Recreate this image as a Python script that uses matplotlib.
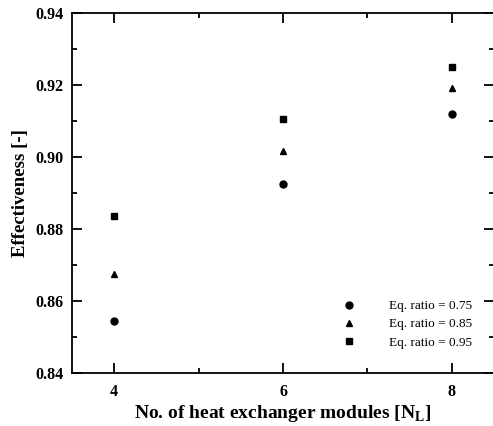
import matplotlib
matplotlib.use("Agg")
import matplotlib.pyplot as plt
from matplotlib.ticker import MultipleLocator

plt.rcParams['font.family'] = ['Liberation Serif', 'DejaVu Serif']
plt.rcParams['mathtext.fontset'] = 'custom'
plt.rcParams['mathtext.rm'] = 'Liberation Serif'
plt.rcParams['mathtext.bf'] = 'Liberation Serif:bold'

modules = [4, 6, 8]
eff_075 = [0.8545, 0.8926, 0.9119]
eff_085 = [0.8675, 0.9017, 0.9191]
eff_095 = [0.8836, 0.9106, 0.9251]
labels = ['Eq. ratio = 0.75', 'Eq. ratio = 0.85', 'Eq. ratio = 0.95']

fig = plt.figure(figsize=(4.93, 4.26), dpi=100)
ax = fig.add_axes([72/493, (426-373)/426, (494-72)/493, (373-13)/426])

ax.plot(modules, eff_075, 'o', color='black', ms=5, ls='none', label=labels[0])
ax.plot(modules, eff_085, '^', color='black', ms=5, ls='none', label=labels[1])
ax.plot(modules, eff_095, 's', color='black', ms=5, ls='none', label=labels[2])

ax.set_xlim(3.5, 8.5)
ax.set_ylim(0.84, 0.94)
ax.set_xticks([4, 6, 8])
ax.set_yticks([0.84, 0.86, 0.88, 0.90, 0.92, 0.94])
ax.set_yticklabels(['0.84', '0.86', '0.88', '0.90', '0.92', '0.94'])
ax.xaxis.set_minor_locator(MultipleLocator(1))
ax.yaxis.set_minor_locator(MultipleLocator(0.01))
ax.tick_params(which='both', direction='in', top=True, right=True, width=1.3)
ax.tick_params(which='major', length=7, labelsize=11.5)
ax.tick_params(axis='x', which='major', pad=8)
ax.tick_params(axis='y', which='major', pad=6)
ax.tick_params(which='minor', length=3.5)
for lab in ax.get_xticklabels() + ax.get_yticklabels():
    lab.set_fontweight('bold')
for sp in ax.spines.values():
    sp.set_linewidth(1.3)

ax.set_xlabel(r'No. of heat exchanger modules [N$_\mathbf{L}$]', fontsize=14, fontweight='bold', labelpad=2)
ax.set_ylabel('Effectiveness [-]', fontsize=13.5, fontweight='bold', labelpad=5)

leg = ax.legend(loc='lower right', bbox_to_anchor=(0.947, 0.068), frameon=False, fontsize=9.5,
                handletextpad=2.5, labelspacing=0.45, handlelength=1.0,
                borderpad=0, borderaxespad=0)

fig.savefig('out.png', dpi=100)
